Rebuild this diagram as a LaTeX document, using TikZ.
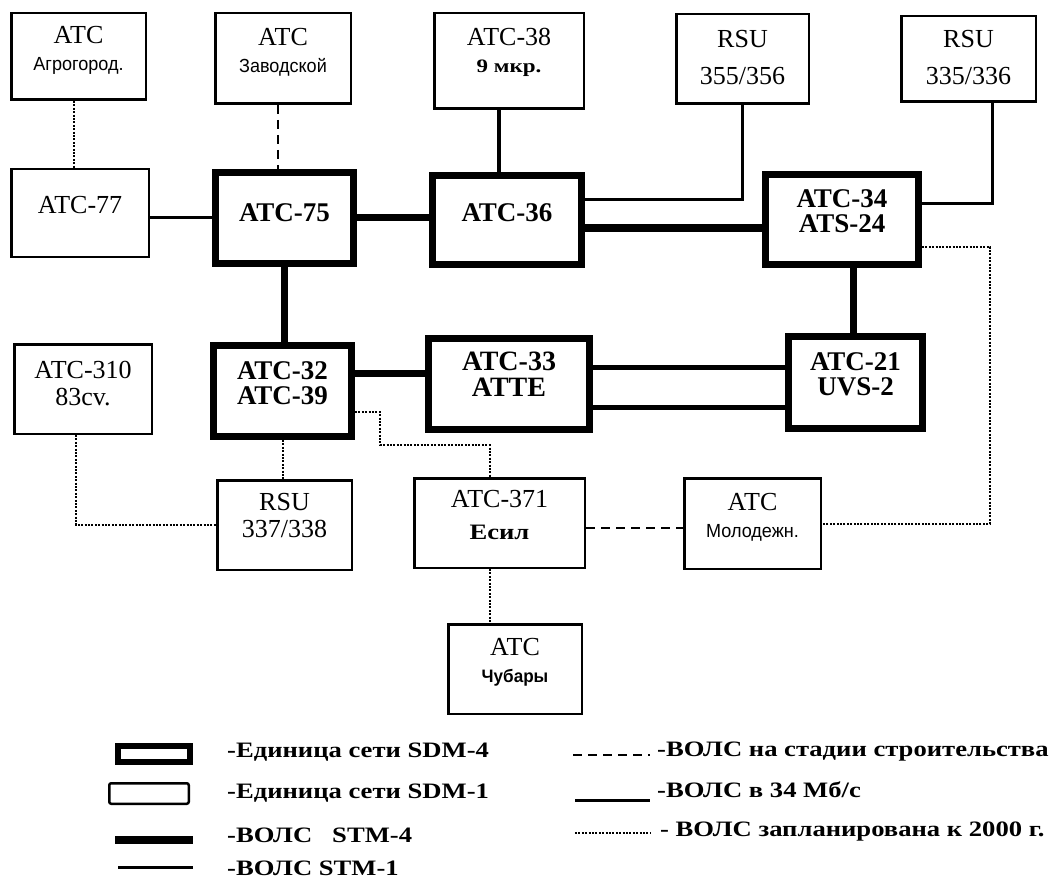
\documentclass[tikz,border=0pt]{standalone}
\usepackage{fontspec}
\setmainfont{Liberation Serif}
\newfontfamily\labelsans[FakeStretch=0.95]{Liberation Sans}
\newfontfamily\widebold[FakeStretch=1.21]{Liberation Serif Bold}
\usetikzlibrary{calc}

\tikzset{
  sdmfour/.style={draw,line width=7pt,align=center,inner sep=0pt,text depth=16pt,
    font=\bfseries\fontsize{27}{25}\selectfont},
  sdmone/.style={draw,line width=2.5pt,align=center,inner sep=0pt,text depth=16pt,
    font=\fontsize{26}{27}\selectfont},
  stmfour/.style={line width=7pt},
  stmone/.style={line width=3pt},
  mbit/.style={line width=3pt},
  building/.style={line width=2.5pt,dash pattern=on 9pt off 6pt},
  planned/.style={line width=2pt,dash pattern=on 2pt off 1.4pt},
  legendtext/.style={anchor=west,inner sep=0pt,font=\widebold\fontsize{22}{22}\selectfont}
}
\newcommand\smalllabel[1]{{\labelsans\fontsize{19}{19}\selectfont #1}}

\begin{document}
\begin{tikzpicture}[x=1pt,y=-1pt]
  \useasboundingbox (0,0) rectangle (1064,885);

  % upper row
  \node[sdmone,minimum width=134.5pt,minimum height=86.5pt] (aggro) at (78.5,56.5) {АТС\\\smalllabel{Агрогород.}};
  \node[sdmone,minimum width=135.5pt,minimum height=90.5pt] (zavod) at (283,58.5) {АТС\\\smalllabel{Заводской}};
  \node[sdmone,minimum width=149.5pt,minimum height=95.5pt,text depth=22pt] (a38) at (509,61) {АТС-38\\{\widebold\fontsize{19}{19}\selectfont 9 мкр.}};
  \node[sdmone,minimum width=132.5pt,minimum height=89.5pt,text depth=4pt] (rsuA) at (742.5,59) {RSU\\[10pt]355/356};
  \node[sdmone,minimum width=134.5pt,minimum height=85.5pt,text depth=4pt] (rsuB) at (968.5,59) {RSU\\[10pt]335/336};

  % ring
  \node[sdmone,minimum width=137.5pt,minimum height=87.5pt] (a77) at (80,213) {АТС-77};
  \node[sdmfour,minimum width=138pt,minimum height=91pt,text depth=11pt] (a75) at (284.5,218) {АТС-75};
  \node[sdmfour,minimum width=149pt,minimum height=89pt,text depth=14pt] (a36) at (507,220) {АТС-36};
  \node[sdmfour,minimum width=153pt,minimum height=90pt] (a34) at (842,219.5) {АТС-34\\ATS-24};
  \node[sdmone,minimum width=137.5pt,minimum height=89.5pt,text depth=12pt] (a310) at (83,389) {АТС-310\\83cv.};
  \node[sdmfour,minimum width=138pt,minimum height=91pt] (a32) at (282.5,391) {АТС-32\\АТС-39};
  \node[sdmfour,minimum width=161pt,minimum height=91pt,text depth=20pt,
    font=\bfseries\fontsize{28}{26}\selectfont] (a33) at (509,384) {АТС-33\\ATTE};
  \node[sdmfour,minimum width=134pt,minimum height=92pt] (a21) at (855.5,382.5) {АТС-21\\UVS-2};

  % lower row
  \node[sdmone,minimum width=134.5pt,minimum height=89.5pt,text depth=19pt] (rsuC) at (284.5,525) {RSU\\337/338};
  \node[sdmone,minimum width=170.5pt,minimum height=89.5pt,text depth=17pt] (a371) at (499.5,523) {АТС-371\\[5pt]{\widebold\fontsize{22}{22}\selectfont Есил}};
  \node[sdmone,minimum width=136.5pt,minimum height=90.5pt,text depth=17pt] (molod) at (752.5,523.5) {АТС\\\smalllabel{Молодежн.}};
  \node[sdmone,minimum width=133.5pt,minimum height=89.5pt,text depth=18pt] (chub) at (515,669) {АТС\\{\labelsans\bfseries\fontsize{18}{18}\selectfont Чубары}};

  % links
  \draw[planned] ([xshift=-5pt]aggro.south) -- ([xshift=-5pt]aggro.south |- a77.north);
  \draw[building] ([xshift=-5pt]zavod.south) -- ([xshift=-5pt]zavod.south |- a75.north);
  \draw[line width=4pt] ([xshift=-10pt]a38.south) -- ([xshift=-10pt]a38.south |- a36.north);
  \draw[stmone] (a77.east |- a75.west) -- (a75.west);
  \draw[stmfour] (a75.east) -- (a75.east -| a36.west);
  \draw[mbit] ([yshift=20pt]a36.east) -| (rsuA.south);
  \draw[stmfour] ([yshift=-8pt]a36.east) -- ([yshift=-8pt]a36.east -| a34.west);
  \draw[mbit] ([yshift=16pt]a34.east) -| ([xshift=24pt]rsuB.south);
  \draw[planned] ([yshift=-27pt]a34.east) -- ++(68,0) |- (molod.east);
  \draw[stmfour] ([xshift=11pt]a34.south) -- ([xshift=11pt]a34.south |- a21.north);
  \draw[stmfour] (a75.south) -- (a75.south |- a32.north);
  \draw[stmfour] ([yshift=18pt]a32.east) -- ([yshift=18pt]a32.east -| a33.west);
  \draw[line width=5pt] ([yshift=17pt]a33.east) -- ([yshift=17pt]a33.east -| a21.west);
  \draw[line width=5pt] ([yshift=-23pt]a33.east) -- ([yshift=-23pt]a33.east -| a21.west);
  \draw[planned] (a32.south) -- (a32.south |- rsuC.north);
  \draw[planned] ([xshift=-7pt]a310.south) |- (rsuC.west);
  \draw[planned] ([yshift=-21pt]a32.east) -| ++(25,33) -| ([xshift=-10pt]a371.north);
  \draw[building] ([yshift=-5pt]a371.east) -- ([yshift=-5pt]a371.east -| molod.west);
  \draw[planned] ([xshift=-10pt]a371.south) -- ([xshift=-10pt]a371.south |- chub.north);

  % legend
  \node[draw,line width=6pt,inner sep=0pt,minimum width=72pt,minimum height=16pt] (keyfour) at (154,754) {};
  \node[draw,line width=2.5pt,inner sep=0pt,rounded corners=2pt,minimum width=79.5pt,minimum height=20.5pt] (keyone) at (149,793.5) {};
  \node[legendtext] (txfour) at (227,752) {-Единица сети SDM-4};
  \node[legendtext] (txone) at (227,793) {-Единица сети SDM-1};
  \node[legendtext] (txstmfour) at (227,835) {-ВОЛС\ \ \ STM-4};
  \node[legendtext] (txstmone) at (227,868) {-ВОЛС STM-1};
  \node[legendtext] (txbuild) at (657,752) {-ВОЛС на стадии строительства};
  \node[legendtext] (txmbit) at (657,790) {-ВОЛС в 34 Мб/с};
  \node[legendtext] (txplan) at (660,832) {- ВОЛС запланирована к 2000 г.};
  \draw[line width=8pt] (115,840) -- (193,840);
  \draw[stmone] (118,867) -- (193,867);
  \draw[building] (573,755) -- (650,755);
  \draw[mbit] (575,800) -- (650,800);
  \draw[planned] (575,833) -- (650,833);
\end{tikzpicture}
\end{document}
